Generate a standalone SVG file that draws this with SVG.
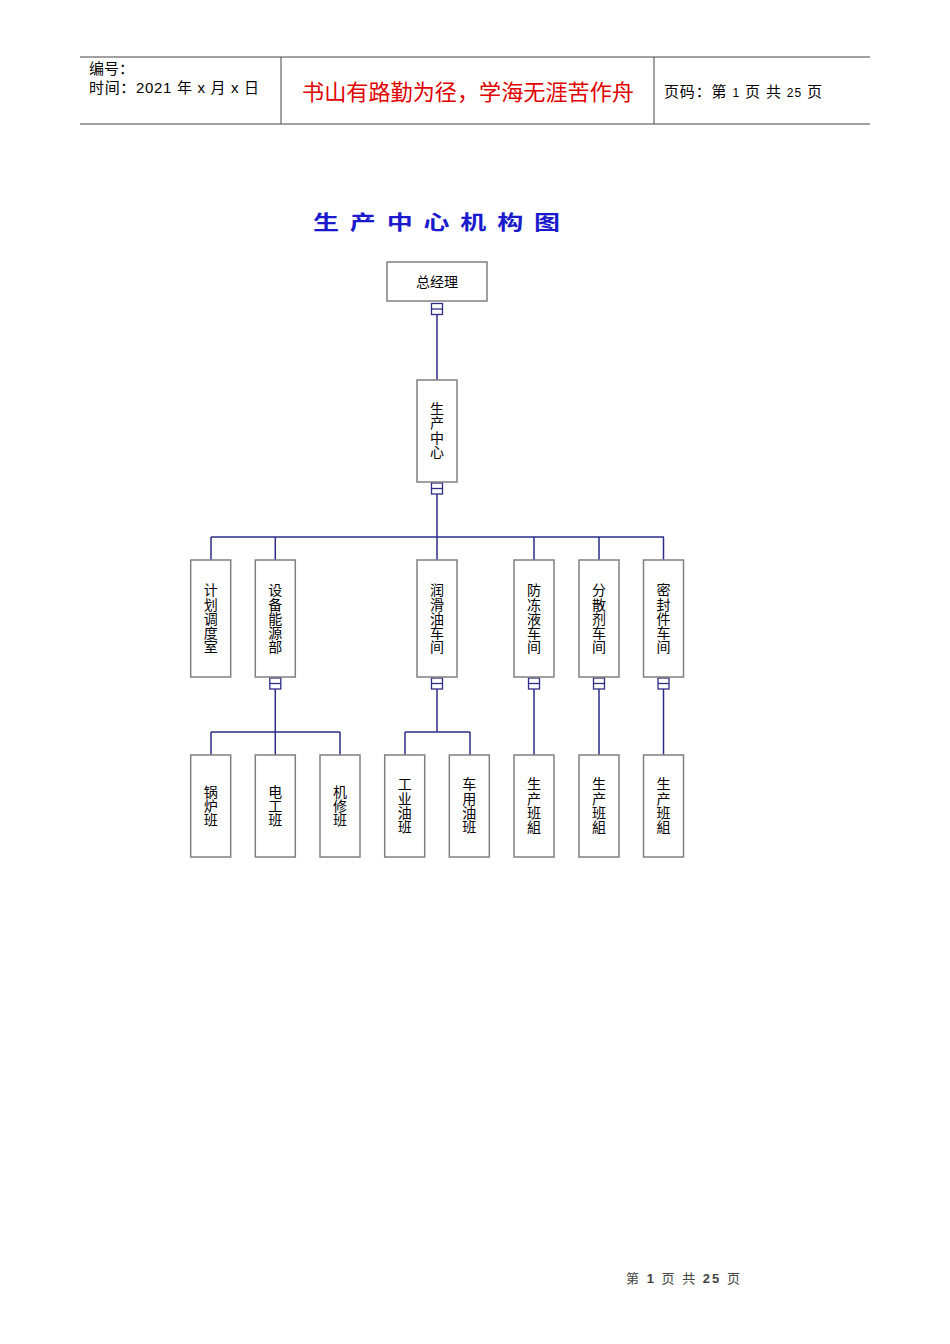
<svg xmlns="http://www.w3.org/2000/svg" width="950" height="1344" viewBox="0 0 950 1344">
<defs>
<style>
.cn{font-family:"Liberation Sans","Noto Sans CJK SC",sans-serif;}
.box{fill:#fff;stroke:#808080;stroke-width:1.5;}
.lbl{font-family:"Noto Sans CJK SC",sans-serif;font-size:14px;fill:#000;text-anchor:middle;}
.v{writing-mode:vertical-rl;}
.conn{fill:none;stroke:#2d2d87;stroke-width:1.5;}
.jt{fill:#fff;stroke:#2d2d87;stroke-width:1.3;}
.hdr{stroke:#444;stroke-width:1;}
</style>
<symbol id="joint" viewBox="0 0 11 11" overflow="visible">
<rect class="jt" x="0" y="0" width="11" height="11"/>
<line class="jt" x1="0" y1="5.5" x2="11" y2="5.5"/>
</symbol>
</defs>
<rect width="950" height="1344" fill="#fff"/>

<g id="header">
<line class="hdr" x1="80" y1="57" x2="870" y2="57"/>
<line class="hdr" x1="80" y1="124" x2="870" y2="124"/>
<line class="hdr" x1="281" y1="57" x2="281" y2="124"/>
<line class="hdr" x1="654" y1="57" x2="654" y2="124"/>
<text class="cn" x="89" y="74" font-size="15" fill="#000">编号：</text>
<text class="cn" x="89" y="93" font-size="15" fill="#000" textLength="170" lengthAdjust="spacing">时间：2021 年 x 月 x 日</text>
<text class="cn" x="302" y="100" font-size="22" fill="#e00000" textLength="332" lengthAdjust="spacingAndGlyphs">书山有路勤为径，学海无涯苦作舟</text>
<text class="cn" x="664" y="97" font-size="15" fill="#000" textLength="158" lengthAdjust="spacing">页码：第 <tspan font-size="12">1</tspan> 页  共 <tspan font-size="12">25</tspan> 页</text>
</g>

<text id="title" transform="scale(1.3,1)" x="240.8" y="230" font-family="Noto Sans CJK SC,sans-serif" font-size="20" font-weight="bold" fill="#1a1acc" textLength="190" lengthAdjust="spacing">生产中心机构图</text>

<g id="connectors">
<path class="conn" d="M437 314V380"/>
<path class="conn" d="M437 494V560M211 537H664M211 537V560M275.3 537V560M534 537V560M599 537V560M663.5 537V560"/>
<path class="conn" d="M275.3 689V755M211 732H340M211 732V755M340 732V755"/>
<path class="conn" d="M437 689V732M405 732H470M405 732V755M470 732V755"/>
<path class="conn" d="M534 689V755M599 689V755M663.5 689V755"/>
<use href="#joint" x="431.5" y="303.5" width="11" height="11"/>
<use href="#joint" x="431.5" y="483" width="11" height="11"/>
<use href="#joint" x="269.8" y="678" width="11" height="11"/>
<use href="#joint" x="431.5" y="678" width="11" height="11"/>
<use href="#joint" x="528.5" y="678" width="11" height="11"/>
<use href="#joint" x="593.5" y="678" width="11" height="11"/>
<use href="#joint" x="658" y="678" width="11" height="11"/>
</g>

<g id="n-zjl"><rect class="box" x="387" y="262" width="100" height="39"/><text class="lbl" x="437" y="286.5">总经理</text></g>

<g id="n-sczx"><rect class="box" x="417" y="380" width="40" height="102"/>
<text class="lbl v" x="437" y="408.6">生</text><text class="lbl v" x="437" y="422.9">产</text><text class="lbl v" x="437" y="437.2">中</text><text class="lbl v" x="437" y="451.5">心</text></g>

<g id="n-jhdds"><rect class="box" x="190.7" y="560" width="40" height="117"/>
<text class="lbl v" x="210.7" y="589.9">计</text><text class="lbl v" x="210.7" y="604.2">划</text><text class="lbl v" x="210.7" y="618.5">调</text><text class="lbl v" x="210.7" y="632.8">度</text><text class="lbl v" x="210.7" y="647.1">室</text></g>

<g id="n-sbnyb"><rect class="box" x="255.3" y="560" width="40" height="117"/>
<text class="lbl v" x="275.3" y="589.9">设</text><text class="lbl v" x="275.3" y="604.2">备</text><text class="lbl v" x="275.3" y="618.5">能</text><text class="lbl v" x="275.3" y="632.8">源</text><text class="lbl v" x="275.3" y="647.1">部</text></g>

<g id="n-rhycj"><rect class="box" x="417" y="560" width="40" height="117"/>
<text class="lbl v" x="437" y="589.9">润</text><text class="lbl v" x="437" y="604.2">滑</text><text class="lbl v" x="437" y="618.5">油</text><text class="lbl v" x="437" y="632.8">车</text><text class="lbl v" x="437" y="647.1">间</text></g>

<g id="n-fdycj"><rect class="box" x="514" y="560" width="40" height="117"/>
<text class="lbl v" x="534" y="589.9">防</text><text class="lbl v" x="534" y="604.2">冻</text><text class="lbl v" x="534" y="618.5">液</text><text class="lbl v" x="534" y="632.8">车</text><text class="lbl v" x="534" y="647.1">间</text></g>

<g id="n-fsjcj"><rect class="box" x="579" y="560" width="40" height="117"/>
<text class="lbl v" x="599" y="589.9">分</text><text class="lbl v" x="599" y="604.2">散</text><text class="lbl v" x="599" y="618.5">剂</text><text class="lbl v" x="599" y="632.8">车</text><text class="lbl v" x="599" y="647.1">间</text></g>

<g id="n-mfjcj"><rect class="box" x="643.5" y="560" width="40" height="117"/>
<text class="lbl v" x="663.5" y="589.9">密</text><text class="lbl v" x="663.5" y="604.2">封</text><text class="lbl v" x="663.5" y="618.5">件</text><text class="lbl v" x="663.5" y="632.8">车</text><text class="lbl v" x="663.5" y="647.1">间</text></g>

<g id="n-glb"><rect class="box" x="190.7" y="755" width="40" height="102"/>
<text class="lbl v" x="210.7" y="791.2">锅</text><text class="lbl v" x="210.7" y="805.5">炉</text><text class="lbl v" x="210.7" y="819.8">班</text></g>

<g id="n-dgb"><rect class="box" x="255.3" y="755" width="40" height="102"/>
<text class="lbl v" x="275.3" y="791.2">电</text><text class="lbl v" x="275.3" y="805.5">工</text><text class="lbl v" x="275.3" y="819.8">班</text></g>

<g id="n-jxb"><rect class="box" x="320" y="755" width="40" height="102"/>
<text class="lbl v" x="340" y="791.2">机</text><text class="lbl v" x="340" y="805.5">修</text><text class="lbl v" x="340" y="819.8">班</text></g>

<g id="n-gyyb"><rect class="box" x="384.7" y="755" width="40" height="102"/>
<text class="lbl v" x="404.7" y="784.1">工</text><text class="lbl v" x="404.7" y="798.4">业</text><text class="lbl v" x="404.7" y="812.7">油</text><text class="lbl v" x="404.7" y="827">班</text></g>

<g id="n-cyyb"><rect class="box" x="449.3" y="755" width="40" height="102"/>
<text class="lbl v" x="469.3" y="784.1">车</text><text class="lbl v" x="469.3" y="798.4">用</text><text class="lbl v" x="469.3" y="812.7">油</text><text class="lbl v" x="469.3" y="827">班</text></g>

<g id="n-scbz1"><rect class="box" x="514" y="755" width="40" height="102"/>
<text class="lbl v" x="534" y="784.1">生</text><text class="lbl v" x="534" y="798.4">产</text><text class="lbl v" x="534" y="812.7">班</text><text class="lbl v" x="534" y="827">組</text></g>

<g id="n-scbz2"><rect class="box" x="579" y="755" width="40" height="102"/>
<text class="lbl v" x="599" y="784.1">生</text><text class="lbl v" x="599" y="798.4">产</text><text class="lbl v" x="599" y="812.7">班</text><text class="lbl v" x="599" y="827">組</text></g>

<g id="n-scbz3"><rect class="box" x="643.5" y="755" width="40" height="102"/>
<text class="lbl v" x="663.5" y="784.1">生</text><text class="lbl v" x="663.5" y="798.4">产</text><text class="lbl v" x="663.5" y="812.7">班</text><text class="lbl v" x="663.5" y="827">組</text></g>

<text id="footer" x="626" y="1283" font-family="Liberation Sans,Noto Sans CJK SC,sans-serif" font-size="13" fill="#444" textLength="114" lengthAdjust="spacing">第 <tspan font-weight="bold">1</tspan> 页 共 <tspan font-weight="bold">25</tspan> 页</text>
</svg>
